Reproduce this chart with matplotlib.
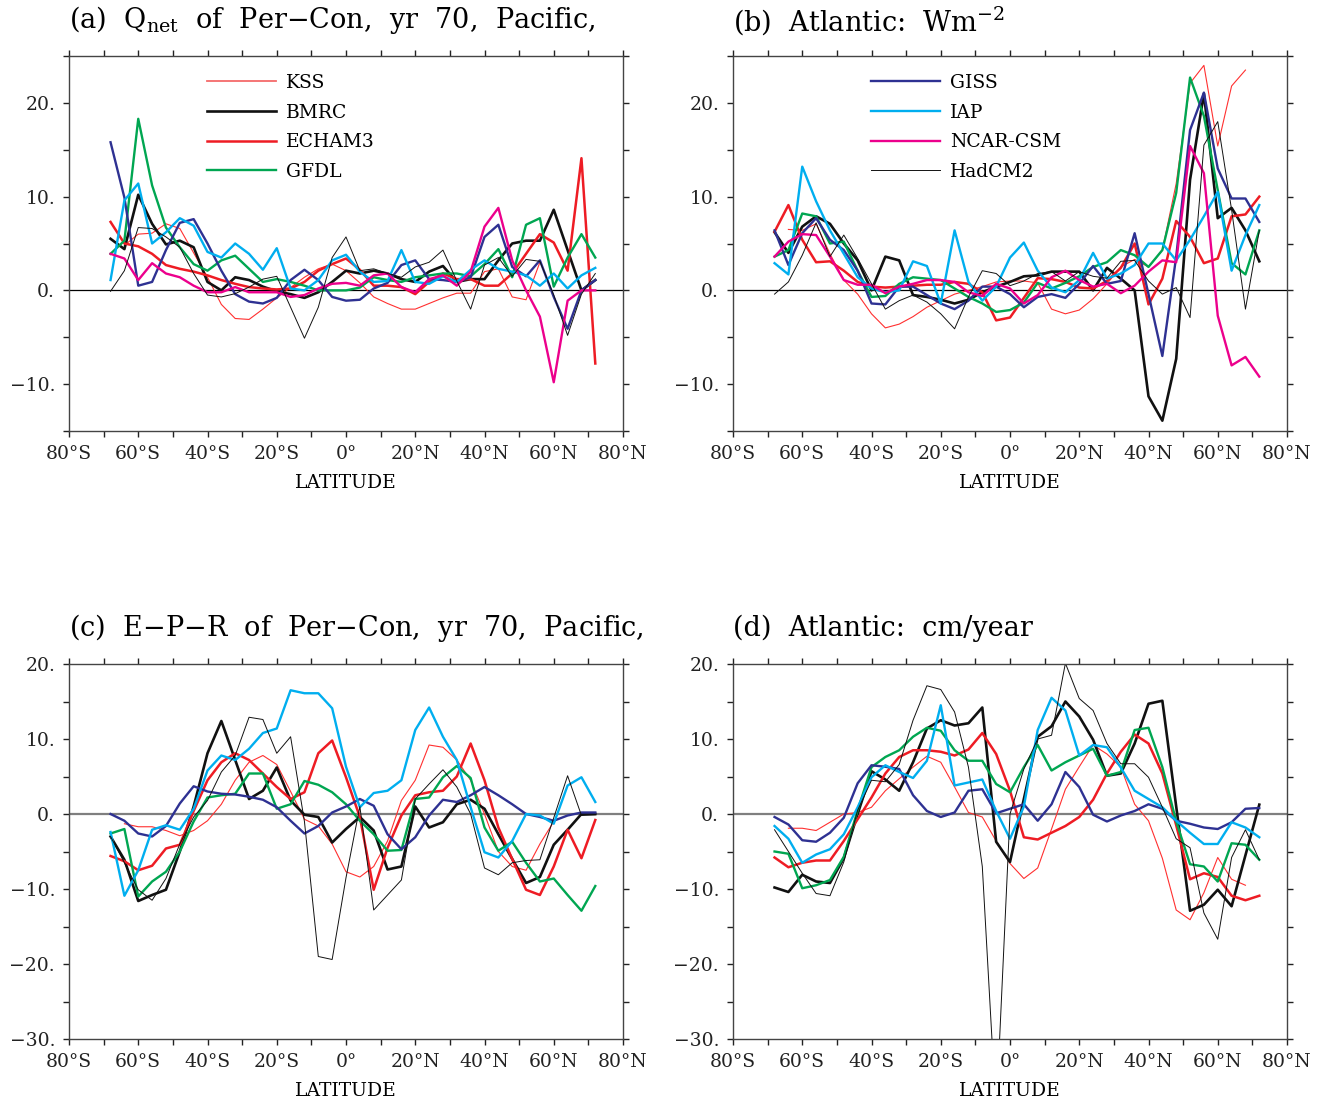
import numpy as np
import matplotlib
matplotlib.use("Agg")
import matplotlib.pyplot as plt
from matplotlib.ticker import MultipleLocator, FuncFormatter

nan = np.nan

lats = [-68, -64, -60, -56, -52, -48, -44, -40, -36, -32, -28, -24, -20, -16, -12, -8, -4, 0,
        4, 8, 12, 16, 20, 24, 28, 32, 36, 40, 44, 48, 52, 56, 60, 64, 68, 72]

# (a) Qnet, Pacific
kss_a = [nan, 4.8, 6.0, 6.1, 7.1, 6.6, 4.0, 1.4, -1.5, -3.0, -3.1, -2.0, -0.8, 0.3, 1.4, 2.3, 2.8, 2.1,
         0.8, -0.7, -1.4, -2.0, -2.0, -1.4, -0.8, -0.3, -0.3, 2.0, 2.3, -0.7, -1.0, 3.0, nan, nan, nan, nan]
bmrc_a = [5.5, 4.4, 10.2, 7.1, 4.9, 5.3, 4.6, 0.9, 0.0, 1.4, 1.1, 0.4, -0.1, -0.4, -0.8, -0.2, 0.9, 2.1,
          1.8, 2.1, 1.8, 1.2, 0.9, 2.0, 2.6, 0.9, 1.2, 1.2, 3.2, 5.0, 5.3, 5.3, 8.6, 4.3, 0.0, 1.1]
echam_a = [7.3, 5.0, 4.7, 3.9, 2.7, 2.3, 2.0, 1.6, 1.1, 0.7, 0.35, 0.2, 0.1, 0.2, 0.9, 2.1, 2.8, 3.4,
           2.2, 0.5, 0.5, 0.35, -0.4, 0.9, 1.8, 1.2, 1.2, 0.5, 0.5, 1.8, 3.9, 6.0, 5.1, 2.1, 14.1, -7.8]
gfdl_a = [3.9, 5.3, 18.3, 11.2, 6.7, 4.6, 2.8, 2.1, 3.2, 3.7, 2.3, 0.9, 1.2, 0.9, 0.5, 0.0, 0.0, 0.0,
          0.3, 1.4, 1.1, 0.9, 1.4, 1.6, 1.8, 1.8, 1.5, 2.8, 4.4, 1.4, 7.0, 7.7, 0.4, 3.5, 6.0, 3.5]
giss_a = [15.8, 9.9, 0.5, 0.9, 4.3, 7.2, 7.6, 5.0, 2.1, -0.4, -1.2, -1.4, -0.8, 1.1, 2.2, 1.1, -0.7, -1.1,
          -1.0, 0.2, 0.8, 2.7, 3.2, 1.2, 1.1, 0.9, 1.4, 5.7, 7.0, 2.5, 1.5, 3.2, -0.7, -4.1, 0.0, 1.1]
iap_a = [1.1, 9.6, 11.4, 5.0, 6.2, 7.7, 6.9, 4.1, 3.5, 5.0, 3.9, 2.2, 4.5, 0.2, 0.0, 1.1, 3.2, 3.8,
         2.0, 0.9, 1.0, 4.3, 0.9, 0.7, 1.5, 0.9, 2.2, 3.2, 2.3, 2.0, 1.6, 0.5, 1.8, 0.2, 1.6, 2.4]
ncar_a = [3.9, 3.4, 1.1, 2.9, 1.8, 1.4, 0.5, -0.2, -0.2, 0.35, -0.2, -0.2, -0.2, -0.7, -0.5, 0.2, 0.7, 0.8,
          0.5, 1.6, 1.8, 0.35, -0.2, 1.2, 1.6, 0.5, 2.0, 6.8, 8.8, 3.2, 0.0, -2.8, -9.8, -1.1, 0.0, 0.0]
had_a = [-0.1, 2.1, 6.7, 6.6, 5.7, 4.6, 1.8, -0.5, -0.7, -0.35, 0.35, 1.2, 1.5, -1.8, -5.1, -1.8, 3.5, 5.7,
         2.1, 2.3, 1.8, 1.4, 2.5, 3.0, 4.3, 1.0, -2.0, 2.7, 3.5, 1.5, 3.3, 3.1, -0.5, -4.8, -0.4, 1.8]

# (b) Qnet, Atlantic
kss_b = [nan, 6.5, 6.4, 7.1, 3.9, 1.1, -0.4, -2.5, -4.0, -3.6, -2.8, -1.8, -1.1, -0.4, 0.0, 0.4, 0.9, 1.0,
         1.0, 0.8, -2.0, -2.5, -2.1, -0.9, 0.7, 2.5, 3.3, 2.5, 4.3, 11.4, 22.1, 24.0, 15.4, 21.8, 23.5, nan]
bmrc_b = [6.2, 4.0, 6.8, 7.9, 7.1, 5.0, 3.2, 0.0, 3.6, 3.2, -0.5, -0.7, -1.0, -1.4, -1.0, -0.2, 0.4, 0.9,
          1.5, 1.6, 2.0, 2.0, 2.0, 0.0, 2.4, 1.25, 0.0, -11.3, -13.9, -7.3, 11.8, 21.0, 7.7, 8.8, 6.4, 3.1]
echam_b = [6.25, 9.1, 5.4, 3.0, 3.1, 2.1, 0.9, 0.4, 0.3, 0.4, 0.5, 0.6, 0.6, 0.9, 0.7, -0.2, -3.2, -2.9,
           -0.8, 1.3, 1.2, 0.9, 0.3, 0.2, 1.0, 2.4, 5.0, -1.5, 1.25, 7.4, 5.7, 2.9, 3.4, 7.9, 8.1, 10.0]
gfdl_b = [3.6, 4.3, 8.2, 7.9, 5.0, 5.2, 2.1, -0.7, -0.6, 0.7, 1.4, 1.25, 1.1, 0.2, -0.7, -1.4, -2.3, -2.1,
          -1.3, 0.8, 0.2, 0.8, 1.5, 2.5, 3.0, 4.3, 3.75, 2.5, 4.3, 10.4, 22.7, 18.6, 10.7, 2.9, 1.7, 6.4]
giss_b = [6.4, 2.7, 6.1, 7.7, 5.4, 4.3, 2.1, -1.4, -1.5, 0.4, 0.4, -0.5, -1.4, -2.0, -1.1, 0.4, 0.4, -0.4,
          -1.8, -0.7, -0.4, -0.8, 0.7, 2.6, 0.7, 1.0, 6.1, -0.4, -7.0, 3.6, 17.1, 21.1, 13.0, 9.8, 9.8, 7.3]
iap_b = [2.9, 1.7, 13.2, 9.5, 6.4, 3.9, 1.4, 0.2, -0.2, 0.0, 3.1, 2.6, -1.4, 6.4, 0.9, -1.1, 0.4, 3.5,
         5.1, 2.1, 0.3, -0.2, 1.1, 4.0, 1.25, 1.8, 2.7, 5.0, 5.0, 3.2, 5.4, 7.9, 10.5, 2.1, 5.9, 9.1]
ncar_b = [3.6, 5.2, 6.0, 5.9, 3.6, 1.1, 0.6, 0.6, -0.3, 0.4, 0.7, 1.1, 1.1, 0.9, -0.2, -0.6, 0.7, 0.2,
          -1.4, -0.5, 1.4, 2.1, 1.1, 0.4, 0.7, -0.3, 0.5, 2.0, 3.2, 3.0, 15.4, 12.5, -2.7, -8.0, -7.1, -9.2]
had_b = [-0.4, 0.9, 3.75, 7.2, 3.6, 5.9, 3.4, 0.7, -2.0, -1.1, -0.5, -1.25, -2.5, -4.1, -0.7, 2.1, 1.8, 0.5,
         1.0, 1.8, 2.0, 1.0, 2.0, 1.5, 1.3, 3.1, 3.2, 1.0, -0.4, 0.3, -2.9, 15.5, 18.0, 8.6, -2.0, 6.4]

# (c) E-P-R, Pacific
kss_c = [nan, -1.3, -1.7, -1.7, -2.2, -2.9, -2.2, -0.9, 1.3, 4.5, 6.9, 7.8, 6.6, 3.0, -0.7, -1.6, -4.0, -7.7,
         -8.4, -7.0, -3.6, 1.8, 4.5, 9.2, 8.9, 7.2, 4.5, 0.0, -5.0, -7.0, -7.5, -4.0, -1.0, nan, nan, nan]
bmrc_c = [-3.0, -6.1, -11.6, -10.8, -10.1, -5.0, 1.0, 8.1, 12.4, 7.2, 2.0, 3.1, 6.2, 1.8, -0.1, -0.4, -3.8, -2.0,
          -0.4, -2.2, -7.4, -7.0, 1.0, -1.8, -1.1, 1.3, 1.9, 0.7, -2.7, -6.0, -9.2, -8.4, -4.1, -2.1, 0.0, 0.0]
echam_c = [-5.6, -6.3, -7.5, -6.9, -4.6, -4.1, 0.4, 4.5, 6.9, 8.1, 7.2, 5.4, 3.6, 2.0, 2.9, 8.1, 9.8, 4.9,
           -0.4, -10.1, -4.5, -0.2, 2.5, 2.9, 3.1, 5.0, 9.4, 4.5, -1.8, -6.0, -10.1, -10.8, -7.0, -2.1, -5.9, -0.8]
gfdl_c = [-2.6, -2.0, -11.0, -9.0, -7.7, -5.0, -1.0, 2.2, 2.5, 2.7, 5.4, 5.4, 0.7, 1.3, 4.4, 3.9, 2.9, 1.3,
          -0.9, -2.7, -4.9, -4.8, 2.0, 2.2, 4.9, 6.4, 4.8, -1.8, -4.9, -3.7, -6.5, -9.0, -8.6, -10.8, -12.9, -9.6]
giss_c = [0.0, -0.9, -2.6, -3.0, -1.6, 1.4, 3.7, 3.0, 2.7, 2.6, 2.3, 1.9, 0.9, -0.9, -2.6, -1.6, 0.2, 1.0,
          2.0, 1.1, -2.7, -4.7, -3.1, -0.2, 1.9, 1.6, 2.5, 3.6, 2.5, 1.3, 0.0, -0.4, -0.9, -0.2, 0.2, 0.2]
iap_c = [-2.4, -10.9, -7.5, -2.1, -1.5, -2.1, 0.7, 5.8, 7.8, 7.2, 8.7, 10.8, 11.4, 16.5, 16.1, 16.1, 14.1, 6.3,
         0.9, 2.8, 3.1, 4.5, 11.2, 14.2, 10.3, 7.2, 0.9, -5.1, -5.8, -3.6, 0.0, -0.2, -1.3, 3.8, 4.9, 1.6]
had_c = [-3.0, -6.5, -10.1, -11.5, -8.6, -4.0, -0.4, 1.8, 5.6, 7.8, 12.9, 12.6, 8.1, 10.3, -1.0, -19.0, -19.4, -8.5,
         1.0, -12.8, -10.8, -8.8, 2.0, 4.0, 5.9, 3.6, 0.0, -7.2, -8.1, -6.5, -6.2, -6.1, -0.5, 5.1, -0.2, -0.1]

# (d) E-P-R, Atlantic
kss_d = [nan, -1.9, -1.9, -2.2, -1.1, 0.0, 0.2, 0.9, 3.1, 4.7, 6.25, 7.7, 6.9, 3.6, 0.2, -0.4, -3.6, -6.6,
         -8.6, -7.2, -2.0, 3.3, 6.3, 9.2, 8.0, 6.25, 1.3, -0.9, -5.9, -12.8, -14.1, -10.5, -5.8, -8.7, -9.5, nan]
bmrc_d = [-9.8, -10.4, -8.1, -9.0, -9.2, -5.9, 0.0, 5.7, 4.6, 3.1, 6.9, 11.4, 12.5, 11.8, 12.1, 14.2, -3.7, -6.4,
          2.0, 10.3, 11.7, 15.0, 13.0, 9.9, 5.1, 5.4, 9.4, 14.7, 15.1, 1.0, -12.9, -12.1, -10.1, -12.3, -5.5, 1.25]
echam_d = [-5.8, -7.1, -6.5, -6.2, -6.2, -3.6, -0.7, 2.2, 5.4, 7.6, 8.5, 8.5, 8.3, 7.8, 8.6, 10.8, 8.0, 3.1,
           -3.1, -3.4, -2.5, -1.6, -0.4, 1.9, 5.4, 8.3, 10.6, 9.4, 5.4, -1.5, -8.7, -7.9, -8.4, -10.9, -11.5, -10.9]
gfdl_d = [-5.0, -5.3, -9.9, -9.5, -8.8, -5.7, 0.5, 6.25, 7.6, 8.5, 10.3, 11.5, 11.1, 8.5, 7.1, 7.1, 4.0, 2.9,
          6.25, 9.2, 5.8, 6.9, 7.8, 8.7, 5.1, 5.6, 11.2, 11.5, 6.25, -1.0, -6.7, -7.0, -9.0, -3.9, -4.1, -6.1]
giss_d = [-0.4, -1.4, -3.5, -3.7, -2.5, -0.5, 4.1, 6.5, 6.3, 6.0, 2.5, 0.4, -0.4, 0.2, 3.1, 3.3, 0.1, 0.7,
          1.3, -0.9, 1.3, 5.6, 3.6, -0.1, -1.0, -0.2, 0.4, 1.3, 0.7, -0.9, -1.3, -1.8, -2.0, -1.1, 0.7, 0.8]
iap_d = [-1.6, -3.3, -6.5, -5.4, -4.7, -2.7, 0.9, 4.9, 6.5, 5.6, 4.8, 7.1, 14.5, 3.8, 4.2, 4.6, 0.4, -3.3,
         1.0, 11.2, 15.5, 13.8, 7.8, 9.2, 8.9, 6.2, 3.1, 2.0, 0.9, -0.9, -2.5, -4.0, -4.0, -1.1, -1.8, -3.1]
had_d = [-2.1, -5.0, -7.9, -10.6, -10.9, -6.4, 0.5, 4.5, 4.3, 6.6, 12.5, 17.1, 16.6, 13.6, 6.25, -7.0, -40.0, 0.0,
         6.0, 10.0, 10.5, 20.1, 15.4, 13.8, 9.4, 6.7, 6.7, 4.9, 0.9, -3.3, -4.5, -13.2, -16.7, -5.8, -2.1, -6.1]

# model name -> (colour, linewidth)
styles = {
    "KSS": ("#ff3030", 0.8),
    "BMRC": ("#111111", 1.9),
    "ECHAM3": ("#ee1c24", 1.8),
    "GFDL": ("#00a651", 1.7),
    "GISS": ("#2e3192", 1.7),
    "IAP": ("#00aeef", 1.7),
    "NCAR-CSM": ("#ec008c", 1.7),
    "HadCM2": ("#111111", 0.7),
}

panels = {
    "a": {"KSS": kss_a, "BMRC": bmrc_a, "ECHAM3": echam_a, "GFDL": gfdl_a,
          "GISS": giss_a, "IAP": iap_a, "NCAR-CSM": ncar_a, "HadCM2": had_a},
    "b": {"KSS": kss_b, "BMRC": bmrc_b, "ECHAM3": echam_b, "GFDL": gfdl_b,
          "GISS": giss_b, "IAP": iap_b, "NCAR-CSM": ncar_b, "HadCM2": had_b},
    "c": {"KSS": kss_c, "BMRC": bmrc_c, "ECHAM3": echam_c, "GFDL": gfdl_c,
          "GISS": giss_c, "IAP": iap_c, "HadCM2": had_c},
    "d": {"KSS": kss_d, "BMRC": bmrc_d, "ECHAM3": echam_d, "GFDL": gfdl_d,
          "GISS": giss_d, "IAP": iap_d, "HadCM2": had_d},
}
titles = {
    "a": r"(a)  Q$_{\mathrm{net}}$  of  Per$-$Con,  yr  70,  Pacific,",
    "b": r"(b)  Atlantic:  Wm$^{-2}$",
    "c": r"(c)  E$-$P$-$R  of  Per$-$Con,  yr  70,  Pacific,",
    "d": "(d)  Atlantic:  cm/year",
}
legend_names = {"a": ["KSS", "BMRC", "ECHAM3", "GFDL"],
                "b": ["GISS", "IAP", "NCAR-CSM", "HadCM2"]}

plt.rcParams['font.family'] = ['DejaVu Serif']
plt.rcParams['mathtext.fontset'] = 'dejavuserif'


def lat_fmt(v, pos):
    v = int(round(v))
    if v % 20:
        return ""
    if v == 0:
        return "0°"
    return f"{abs(v)}°{'S' if v < 0 else 'N'}"


def y_fmt(v, pos):
    v = int(round(v))
    if v % 10:
        return ""
    return f"{v}.".replace("-", "\u2212")


W, H = 1323, 1101
fig = plt.figure(figsize=(W / 100, H / 100), dpi=100)
rects = {
    "a": [69 / W, 1 - 431 / H, 554 / W, 375 / H],
    "b": [733 / W, 1 - 431 / H, 554 / W, 375 / H],
    "c": [69 / W, 1 - 1039 / H, 554 / W, 375 / H],
    "d": [733 / W, 1 - 1039 / H, 554 / W, 375 / H],
}
ylims = {"a": (-15, 25), "b": (-15, 25), "c": (-30, 20), "d": (-30, 20)}

for key, series in panels.items():
    ax = fig.add_axes(rects[key])
    if key in ("a", "b"):
        ax.axhline(0, color="black", lw=0.9, zorder=1)
    else:
        ax.axhline(0, color="#7f7f7f", lw=1.6, zorder=1)
    handles = {}
    for name, vals in series.items():
        col, lw = styles[name]
        ln, = ax.plot(lats, vals, color=col, lw=lw, label=name, zorder=2)
        handles[name] = ln
    ax.set_xlim(-80, 80)
    ax.set_ylim(*ylims[key])
    ax.xaxis.set_major_locator(MultipleLocator(10))
    ax.yaxis.set_major_locator(MultipleLocator(5))
    ax.xaxis.set_major_formatter(FuncFormatter(lat_fmt))
    ax.yaxis.set_major_formatter(FuncFormatter(y_fmt))
    ax.tick_params(direction="out", length=4, width=1, top=True, right=True,
                   labelsize=13.5, colors="#222222", pad=6)
    for s in ax.spines.values():
        s.set_color("#444444")
        s.set_linewidth(1.0)
    ax.set_xlabel("LATITUDE", fontsize=13.5, labelpad=8)
    ax.text(0.0, 1.095, titles[key], transform=ax.transAxes, fontsize=19.5,
            ha="left", va="center")
    if key in legend_names:
        names = legend_names[key]
        leg = ax.legend([handles[n] for n in names], names, loc="upper left",
                        bbox_to_anchor=(0.249, 0.952), frameon=False, fontsize=13.5,
                        handlelength=3.7, handletextpad=0.5, labelspacing=0.62,
                        borderpad=0, borderaxespad=0)
        for h, n in zip(leg.legend_handles, names):
            if n == "KSS":
                h.set_color("#f46a6a")
                h.set_linewidth(1.3)

fig.savefig("out.png", dpi=100)
